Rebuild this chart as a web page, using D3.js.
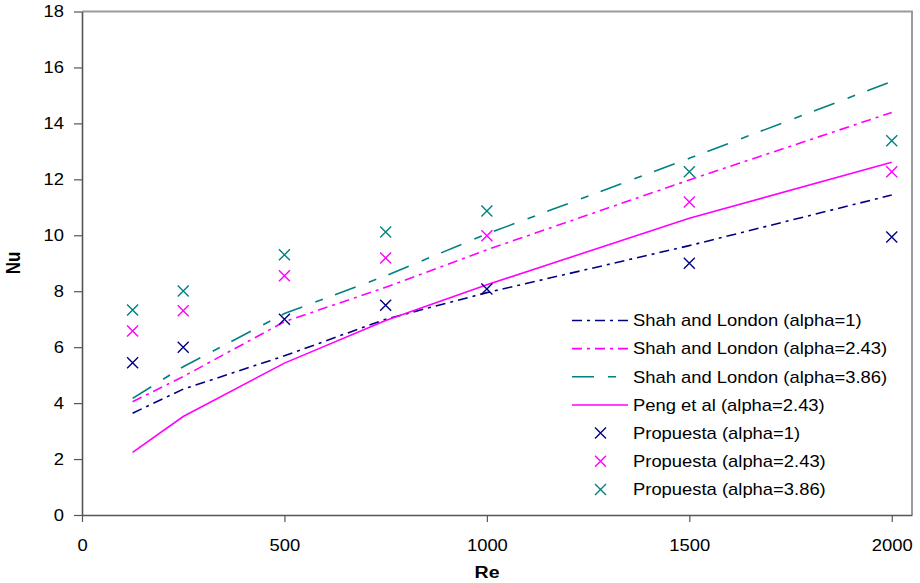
<!DOCTYPE html>
<html>
<head>
<meta charset="utf-8">
<script src="https://cdn.jsdelivr.net/npm/d3@7"></script>
<style>
  body { margin: 0; background: #fff; }
  svg { display: block; }
  text { font-family: "Liberation Sans", Arial, sans-serif; fill: #000; }
</style>
</head>
<body>
<svg id="chart" width="920" height="583"></svg>
<script>
// ---- data ----
const reValues = [125, 250, 500, 750, 1000, 1500, 2000];
const shahAlpha1 = [3.64, 4.5, 5.69, 7.0, 7.95, 9.63, 11.44];
const shahAlpha243 = [4.05, 4.95, 6.91, 8.14, 9.48, 11.98, 14.39];
const shahAlpha386 = [4.17, 5.3, 7.2, 8.55, 10.05, 12.75, 15.5];
const pengAlpha243 = [2.24, 3.52, 5.43, 6.95, 8.23, 10.61, 12.61];
const propAlpha1 = [5.44, 6.0, 7.0, 7.5, 8.08, 9.0, 9.94];
const propAlpha243 = [6.58, 7.3, 8.55, 9.19, 9.98, 11.19, 12.27];
const propAlpha386 = [7.33, 8.01, 9.3, 10.12, 10.87, 12.27, 13.38];
const xTicks = [0, 500, 1000, 1500, 2000];
const yTicks = [0, 2, 4, 6, 8, 10, 12, 14, 16, 18];
const legendLabels = [
  "Shah and London (alpha=1)",
  "Shah and London (alpha=2.43)",
  "Shah and London (alpha=3.86)",
  "Peng et al (alpha=2.43)",
  "Propuesta (alpha=1)",
  "Propuesta (alpha=2.43)",
  "Propuesta (alpha=3.86)"
];

const NAVY = "#000080", MAG = "#ff00ff", TEAL = "#008080";
const SX = 1.15; // horizontal text stretch seen in the reference

const lineSeries = [
  { name: legendLabels[0], values: shahAlpha1, color: NAVY, dash: "10,5,3,5" },
  { name: legendLabels[1], values: shahAlpha243, color: MAG, dash: "10,5,3,5" },
  { name: legendLabels[2], values: shahAlpha386, color: TEAL, dash: "22,14,8,13" },
  { name: legendLabels[3], values: pengAlpha243, color: MAG, dash: null }
];
const markerSeries = [
  { name: legendLabels[4], values: propAlpha1, color: NAVY },
  { name: legendLabels[5], values: propAlpha243, color: MAG },
  { name: legendLabels[6], values: propAlpha386, color: TEAL }
];

const svg = d3.select("#chart");
const x = d3.scaleLinear().domain([0, 2050]).range([82, 912]);
const y = d3.scaleLinear().domain([0, 18]).range([515, 11.5]);

// frame (top/right)
svg.append("path")
  .attr("d", `M${x(0)},${y(18)}H${x(2050)}V${y(0)}`)
  .attr("fill", "none").attr("stroke", "#9a9a9a").attr("stroke-width", 2);

// axes
const yAxis = svg.append("g").attr("transform", `translate(${x(0)},0)`)
  .call(d3.axisLeft(y).tickValues(yTicks).tickSize(8).tickPadding(6).tickSizeOuter(0));
const xAxis = svg.append("g").attr("transform", `translate(0,${y(0)})`)
  .call(d3.axisBottom(x).tickValues(xTicks).tickFormat(d3.format("d")).tickSize(7).tickPadding(18).tickSizeOuter(0));
[yAxis, xAxis].forEach(g => {
  g.select(".domain").attr("stroke", "#555").attr("stroke-width", 1.6);
  g.selectAll(".tick line").attr("stroke", "#555").attr("stroke-width", 1.2);
  g.selectAll(".tick text").attr("font-size", 16).attr("font-family", "Liberation Sans, Arial, sans-serif").attr("fill", "#000")
    .attr("transform", `scale(${SX},1)`);
});
yAxis.selectAll(".tick text").attr("x", -18 / SX);

// lines
const line = d3.line().x((d, i) => x(reValues[i])).y(d => y(d));
lineSeries.forEach(s => {
  svg.append("path").datum(s.values)
    .attr("d", line)
    .attr("fill", "none")
    .attr("stroke", s.color)
    .attr("stroke-width", 1.6)
    .attr("stroke-dasharray", s.dash);
});

// X markers
function drawX(g, cx, cy, color) {
  const r = 5.5;
  g.append("path")
    .attr("d", `M${cx - r},${cy - r}L${cx + r},${cy + r}M${cx - r},${cy + r}L${cx + r},${cy - r}`)
    .attr("stroke", color).attr("stroke-width", 1.4).attr("fill", "none");
}
markerSeries.forEach(s => {
  const g = svg.append("g");
  s.values.forEach((v, i) => drawX(g, x(reValues[i]), y(v), s.color));
});

// axis titles
svg.append("text")
  .attr("transform", `translate(487,578) scale(${SX},1)`)
  .attr("text-anchor", "middle").attr("font-size", 17).attr("font-weight", "bold")
  .text("Re");
svg.append("text")
  .attr("transform", `translate(20,263) rotate(-90) scale(1,${SX})`)
  .attr("text-anchor", "middle").attr("font-size", 17).attr("font-weight", "bold")
  .text("Nu");

// legend
const legend = svg.append("g");
const rowY0 = 320.5, rowStep = 28.15;
const allLegend = lineSeries.map(s => ({ ...s, type: "line" }))
  .concat(markerSeries.map(s => ({ ...s, type: "marker" })));
allLegend.forEach((s, i) => {
  const ry = rowY0 + i * rowStep;
  if (s.type === "line") {
    legend.append("line")
      .attr("x1", 572).attr("x2", 628).attr("y1", ry).attr("y2", ry)
      .attr("stroke", s.color).attr("stroke-width", 1.6)
      .attr("stroke-dasharray", s.dash);
  } else {
    drawX(legend, 600.5, ry, s.color);
  }
  legend.append("text")
    .attr("transform", `translate(633,${ry}) scale(${SX},1)`)
    .attr("dy", "0.36em")
    .attr("font-size", 16)
    .text(s.name);
});
</script>
</body>
</html>
